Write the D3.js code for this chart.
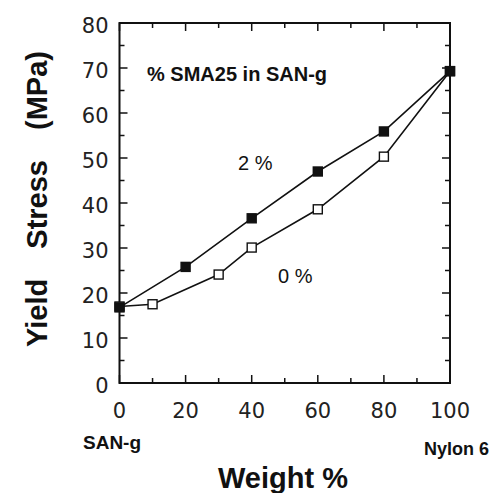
<!DOCTYPE html>
<html>
<head>
<meta charset="utf-8">
<script src="https://cdn.jsdelivr.net/npm/d3@7"></script>
<style>
body { margin: 0; background: #fff; }
text { font-family: "Liberation Sans", Arial, Helvetica, sans-serif; fill: #111; }
.tick-label { font-family: "DejaVu Sans", sans-serif; fill: #222; }
</style>
</head>
<body>
<div id="chart"></div>
<script>
// data
const weight2 = [0, 20, 40, 60, 80, 100];
const stress2 = [16.8, 25.8, 36.6, 47.0, 55.9, 69.3];
const weight0 = [0, 10, 30, 40, 60, 80, 100];
const stress0 = [17.0, 17.5, 24.1, 30.1, 38.6, 50.3, 69.3];
const xTicks = [0, 20, 40, 60, 80, 100];
const yTicks = [0, 10, 20, 30, 40, 50, 60, 70, 80];

const W = 491, H = 493;
const margin = {top: 23, right: 41, bottom: 110, left: 119.5};
const width = W - margin.left - margin.right,
      height = H - margin.top - margin.bottom;

const svg = d3.select("#chart").append("svg")
  .attr("width", W).attr("height", H);
const g = svg.append("g")
  .attr("transform", `translate(${margin.left},${margin.top})`);

const x = d3.scaleLinear().domain([0, 100]).range([0, width]);
const y = d3.scaleLinear().domain([0, 80]).range([height, 0]);

// frame
g.append("rect")
  .attr("width", width).attr("height", height)
  .attr("fill", "none").attr("stroke", "#111").attr("stroke-width", 2);

// inward ticks on all four sides
const xMinor = d3.range(0, 101, 10);
const yMinor = d3.range(0, 81, 5);
const tickLen = v => (v % 20 === 0 ? 8 : 5);
const ytickLen = v => (v % 10 === 0 ? 8 : 5);
xMinor.forEach(v => {
  g.append("line").attr("x1", x(v)).attr("x2", x(v))
    .attr("y1", height).attr("y2", height - tickLen(v))
    .attr("stroke", "#111").attr("stroke-width", 1.5);
  g.append("line").attr("x1", x(v)).attr("x2", x(v))
    .attr("y1", 0).attr("y2", tickLen(v))
    .attr("stroke", "#111").attr("stroke-width", 1.5);
});
yMinor.forEach(v => {
  g.append("line").attr("y1", y(v)).attr("y2", y(v))
    .attr("x1", 0).attr("x2", ytickLen(v))
    .attr("stroke", "#111").attr("stroke-width", 1.5);
  g.append("line").attr("y1", y(v)).attr("y2", y(v))
    .attr("x1", width).attr("x2", width - ytickLen(v))
    .attr("stroke", "#111").attr("stroke-width", 1.5);
});

// tick labels
g.selectAll(".xl").data(xTicks).join("text")
  .attr("class", "tick-label")
  .attr("x", d => x(d)).attr("y", height + 35)
  .attr("text-anchor", "middle")
  .style("font-size", "21px")
  .text(d => d);
g.selectAll(".yl").data(yTicks).join("text")
  .attr("class", "tick-label")
  .attr("x", -11).attr("y", d => y(d) + 10)
  .attr("text-anchor", "end")
  .style("font-size", "21px")
  .text(d => d);

// lines
const line = d3.line().x(d => x(d[0])).y(d => y(d[1]));
const pts2 = weight2.map((w, i) => [w, stress2[i]]);
const pts0 = weight0.map((w, i) => [w, stress0[i]]);

g.append("path").datum(pts0).attr("d", line)
  .attr("fill", "none").attr("stroke", "#111").attr("stroke-width", 1.6);
g.append("path").datum(pts2).attr("d", line)
  .attr("fill", "none").attr("stroke", "#111").attr("stroke-width", 1.6);

const s = 9;
g.selectAll(".m0").data(pts0).join("rect")
  .attr("x", d => x(d[0]) - s / 2).attr("y", d => y(d[1]) - s / 2)
  .attr("width", s).attr("height", s)
  .attr("fill", "#fff").attr("stroke", "#111").attr("stroke-width", 1.4);
g.selectAll(".m2").data(pts2).join("rect")
  .attr("x", d => x(d[0]) - s / 2).attr("y", d => y(d[1]) - s / 2)
  .attr("width", s).attr("height", s)
  .attr("fill", "#111").attr("stroke", "#111").attr("stroke-width", 1.4);

// annotations
svg.append("text").attr("x", 147).attr("y", 81)
  .style("font-size", "20px").style("font-weight", "bold")
  .text("% SMA25 in SAN-g");
svg.append("text").attr("x", 238).attr("y", 170)
  .style("font-size", "20px")
  .text("2 %");
svg.append("text").attr("x", 278).attr("y", 283)
  .style("font-size", "20px")
  .text("0 %");

svg.append("text").attr("x", 83).attr("y", 449)
  .style("font-size", "19px").style("font-weight", "bold")
  .text("SAN-g");
svg.append("text").attr("x", 489).attr("y", 455)
  .attr("text-anchor", "end")
  .style("font-size", "18px").style("font-weight", "bold")
  .text("Nylon 6");

// axis titles
svg.append("text").attr("x", 283).attr("y", 488)
  .attr("text-anchor", "middle")
  .style("font-size", "29px").style("font-weight", "bold")
  .text("Weight %");
svg.append("text")
  .attr("transform", "translate(47,199) rotate(-90)")
  .attr("text-anchor", "middle")
  .style("font-size", "29px").style("font-weight", "bold")
  .style("word-spacing", "22px")
  .text("Yield Stress (MPa)");
</script>
</body>
</html>
